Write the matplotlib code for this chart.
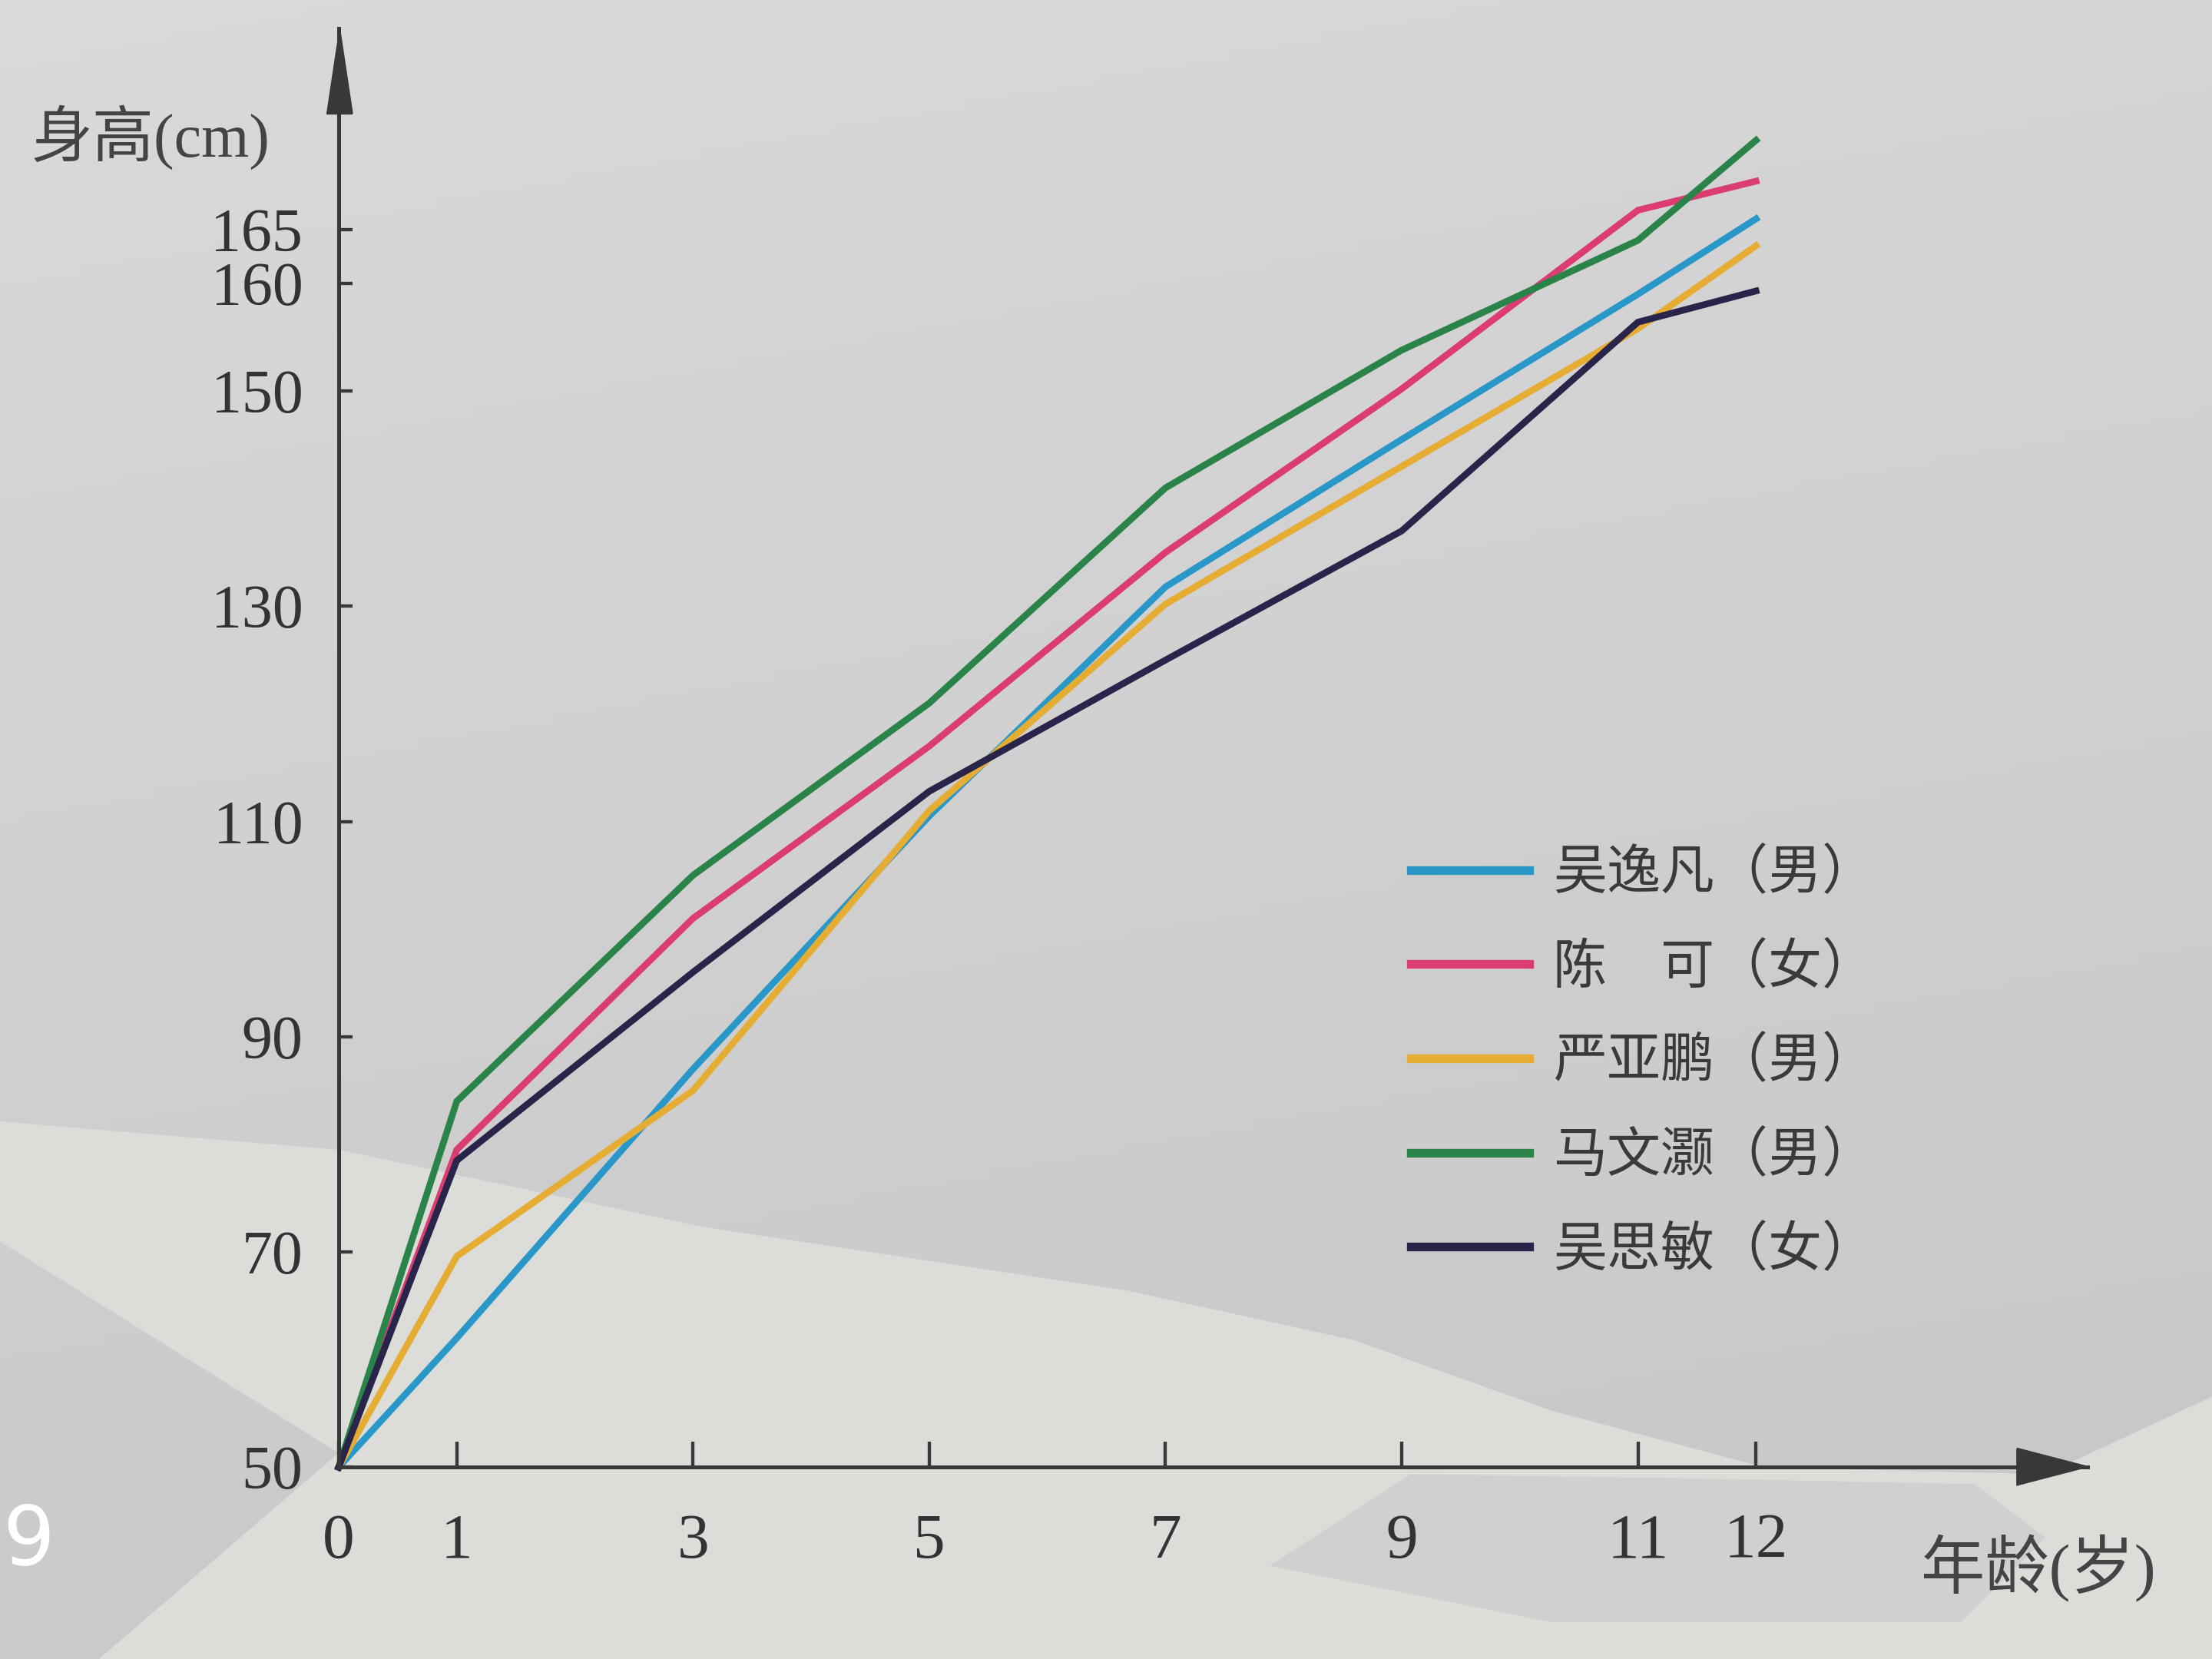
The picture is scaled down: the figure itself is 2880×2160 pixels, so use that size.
"""Height growth curves of five children (textbook figure), redrawn with matplotlib."""

import numpy as np
import matplotlib

matplotlib.use("Agg")
import matplotlib.pyplot as plt
from matplotlib.patches import Polygon

plt.rcParams["font.family"] = ["Liberation Serif", "Noto Sans CJK SC", "DejaVu Sans"]

# ages (years) at which each height was recorded
AGES = [0, 1, 3, 5, 7, 9, 11, 12]

# heights (cm)
WU_YIFAN = [50, 62, 87, 110.5, 131.8, 145.5, 159, 166]
CHEN_KE = [50, 79.5, 101, 117, 135, 150.2, 166.8, 169.5]
YAN_YAPENG = [50, 69.6, 85, 111, 130.2, 143, 155.8, 163.5]
MA_WENHAO = [50, 84, 105, 121, 141, 153.8, 164, 173.3]
WU_SIMIN = [50, 78.5, 96, 112.8, 125, 137, 156.4, 159.3]

NAMES = ["吴逸凡（男）", "陈\u3000可（女）", "严亚鹏（男）", "马文灏（男）", "吴思敏（女）"]
COLOURS = ["#2a97c9", "#dc3d70", "#e5ad34", "#2a8348", "#29254a"]

X_TICKS = [0, 1, 3, 5, 7, 9, 11, 12]
Y_TICKS = [50, 70, 90, 110, 130, 150, 160, 165]

AXIS_COLOUR = "#383838"
TEXT_COLOUR = "#333333"


def _page(points):
    """Convert reference-pixel outline points to figure fractions."""
    return [(x / 1568, 1 - y / 1176) for x, y in points]


fig = plt.figure(figsize=(12, 9), dpi=240)
fig.patch.set_facecolor("#cfcfcd")

# photographed page background: grey sky fading down, pale snow at the bottom
bg = fig.add_axes([0, 0, 1, 1], zorder=-5)
bg.axis("off")
shade = np.linspace(0.85, 0.79, 200)[:, None] - np.linspace(0.0, 0.015, 300)[None, :]
bg.imshow(shade, cmap="gray", vmin=0, vmax=1, aspect="auto", extent=(0, 1, 0, 1))
snow = [(0, 795), (240, 815), (500, 870), (800, 915), (960, 950), (1100, 1000),
        (1250, 1040), (1450, 1045), (1568, 990), (1568, 1176), (70, 1176),
        (240, 1030), (0, 880)]
shadow = [(900, 1110), (1000, 1045), (1200, 1048), (1400, 1052), (1450, 1090),
          (1390, 1150), (1100, 1150)]
bg.add_patch(Polygon(_page(snow), closed=True, facecolor="#dcdcd9", edgecolor="none"))
bg.add_patch(Polygon(_page(shadow), closed=True, facecolor="#d0d0ce", edgecolor="none"))
bg.set_xlim(0, 1)
bg.set_ylim(0, 1)

ax = fig.add_axes([0.1531, 0.1156, 0.7908, 0.8673])
ax.patch.set_alpha(0)
ax.set_xlim(0, 14.81)
ax.set_ylim(50, 183.7)

series = [WU_YIFAN, CHEN_KE, YAN_YAPENG, MA_WENHAO, WU_SIMIN]
for heights, colour, name in zip(series, COLOURS, NAMES):
    ax.plot(AGES, heights, "-", color=colour, linewidth=2.6, label=name,
            solid_joinstyle="miter", clip_on=False)

for side in ("top", "right"):
    ax.spines[side].set_visible(False)
for side in ("left", "bottom"):
    ax.spines[side].set_color(AXIS_COLOUR)
    ax.spines[side].set_linewidth(1.5)

# arrow heads at the ends of both axes
up = [(-0.15, -1.0), (0.15, -1.0), (0.0, 0.0)]
right = [(-1.0, -0.26), (-1.0, 0.26), (0.0, 0.0)]
ax.plot([0], [1], marker=up, markersize=66, color=AXIS_COLOUR, transform=ax.transAxes, clip_on=False)
ax.plot([1], [0], marker=right, markersize=55, color=AXIS_COLOUR, transform=ax.transAxes, clip_on=False)

ax.set_xticks(X_TICKS)
ax.set_xticklabels([str(t) for t in X_TICKS])
ax.set_yticks(Y_TICKS)
ax.set_yticklabels([str(t) for t in Y_TICKS])
ax.tick_params(axis="x", direction="in", length=10, width=1.3, pad=18,
               labelsize=25, colors=AXIS_COLOUR, labelcolor=TEXT_COLOUR)
ax.tick_params(axis="y", direction="in", length=5.5, width=1.3, pad=14,
               labelsize=24, colors=AXIS_COLOUR, labelcolor=TEXT_COLOUR)

fig.text(0.0682, 0.9175, "身高(cm)", fontsize=24, color="#444444", ha="center", va="center")
fig.text(0.9216, 0.0544, "年龄(岁)", fontsize=25, color="#444444", ha="center", va="center")
fig.text(0.0128, 0.0706, "9", fontsize=32, color="white", family="DejaVu Sans",
         ha="center", va="center")

leg = ax.legend(loc="upper left", bbox_to_anchor=(1000 / 1568, 1 - 602 / 1176),
                bbox_transform=fig.transFigure, frameon=False, fontsize=21,
                handlelength=2.2, handletextpad=0.45, labelspacing=0.8,
                borderpad=0, borderaxespad=0)
for line in leg.get_lines():
    line.set_linewidth(3.4)
for text in leg.get_texts():
    text.set_color("#3a3a3a")

fig.savefig("out.png", dpi=240, facecolor=fig.get_facecolor())
